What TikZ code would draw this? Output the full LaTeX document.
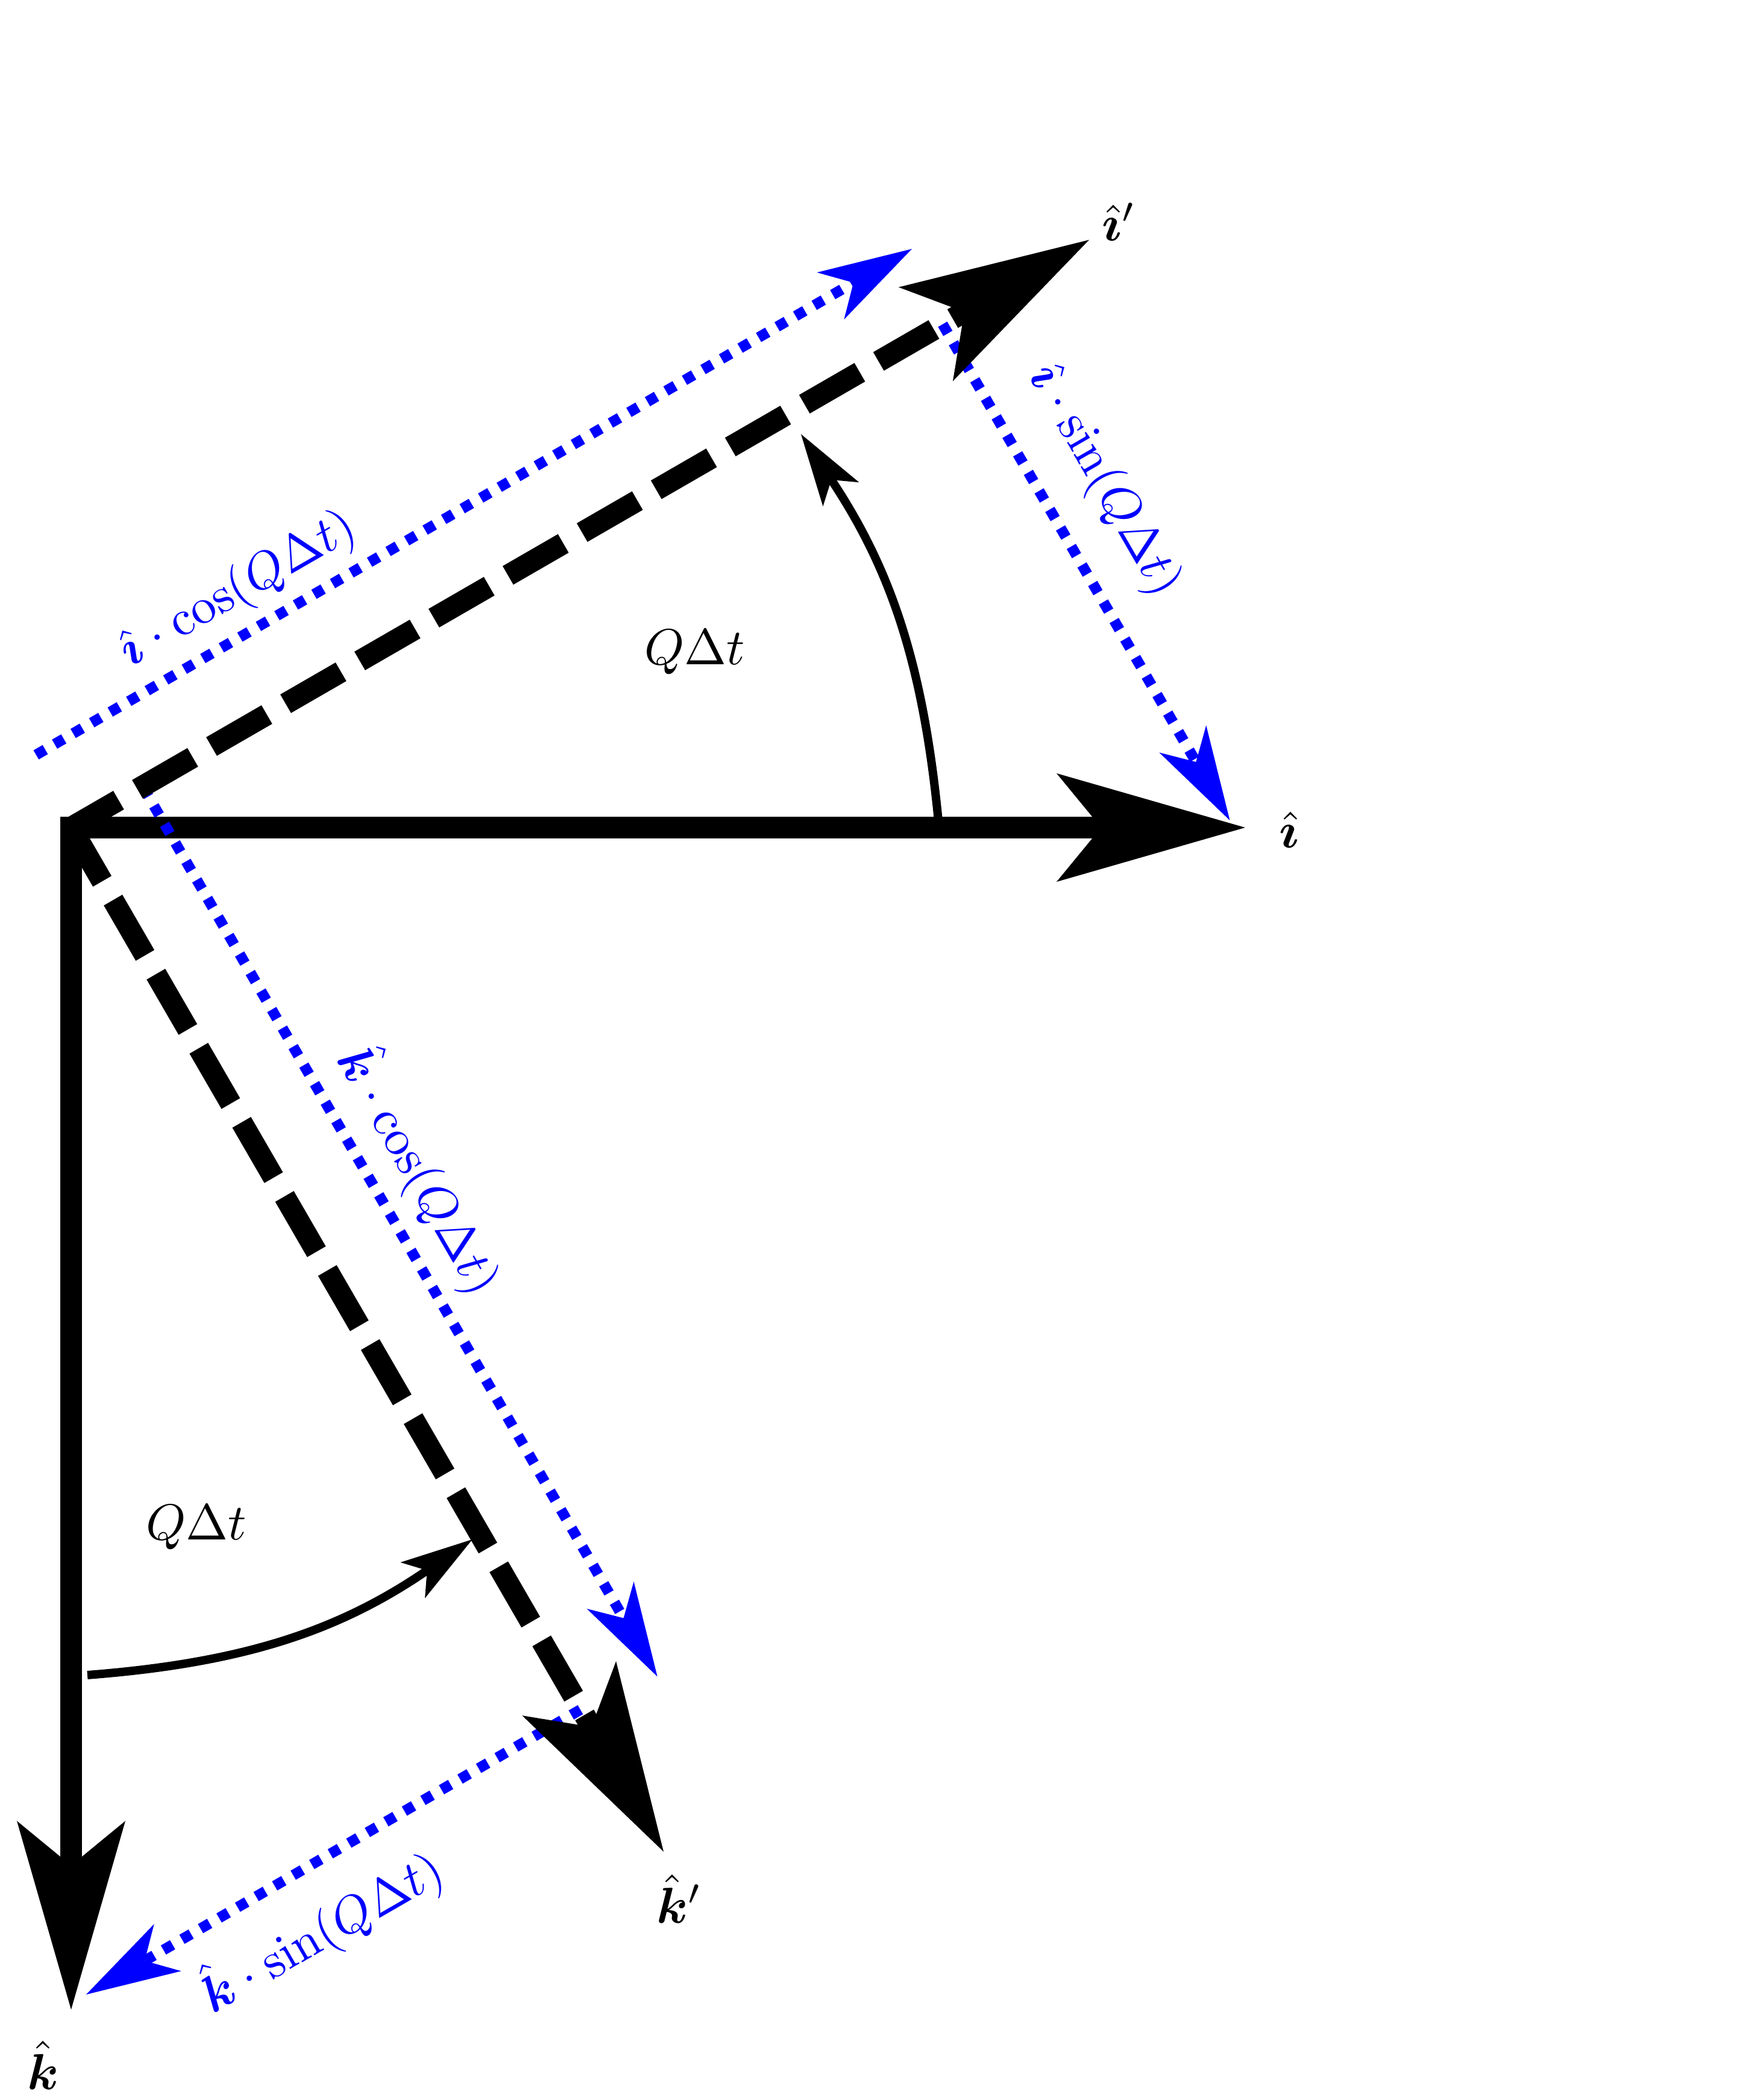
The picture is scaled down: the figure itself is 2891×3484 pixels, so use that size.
\documentclass[tikz,border=0pt]{standalone}
\usepackage{amsmath,bm}
\usetikzlibrary{arrows.meta}
\begin{document}
\begin{tikzpicture}[x=0.1pt,y=0.1pt,
  axisline/.style={line width=3.56pt, line cap=rect, -{Stealth[length=31.3pt,width=18pt,inset=7.4pt,line width=0pt]}},
  rotline/.style={line width=3.56pt, dash pattern=on 10.6pt off 3.6pt, -{Stealth[length=31.3pt,width=18pt,inset=7.4pt,line width=0pt]}},
  projline/.style={draw=blue, line width=1.75pt, dash pattern=on 1.75pt off 1.8pt, -{Stealth[length=15.6pt,width=9pt,inset=4.4pt,line width=0pt]}},
  anglearc/.style={line width=1.4pt, -{Stealth[length=12pt,width=7.2pt,inset=2.9pt,line width=0pt]}},
  lbl/.style={inner sep=0pt, scale=0.84},
  plbl/.style={lbl, text=blue}]
\useasboundingbox (0,0) rectangle (2891,3484);
% main points
\coordinate (O) at (118,2111);
\coordinate (I) at (2066,2111);
\coordinate (K) at (118,150);
\coordinate (Ip) at (1807,3086);
\coordinate (Kp) at (1101,412);
% projection end points
\coordinate (icS) at (59.9,2231.6);
\coordinate (icE) at (1513,3071);
\coordinate (isS) at (1564,2946);
\coordinate (isE) at (2040.5,2123);
\coordinate (kcS) at (237.6,2177.8);
\coordinate (kcE) at (1090.7,702.5);
\coordinate (ksS) at (963,647.5);
\coordinate (ksE) at (143,175);
% angle arcs
\coordinate (auS) at (1556.7,2125);
\coordinate (auE) at (1329,2763.7);
\coordinate (alS) at (145,705);
\coordinate (alE) at (783.7,930);

% original axes
\draw[axisline] (O) -- (I);
\draw[axisline] (O) -- (K);
% projections
\draw[projline] (icS) -- (icE);
\draw[projline] (isS) -- (isE);
\draw[projline] (kcS) -- (kcE);
\draw[projline] (ksS) -- (ksE);
% rotated axes
\draw[rotline, dash phase=1.5pt] (O) -- (Ip);
\draw[rotline, dash phase=0.3pt] (O) -- (Kp);
% angle arcs
\draw[anglearc] (auS) to[bend right=14] (auE);
\draw[anglearc] (alS) to[bend right=15] (alE);

% labels
\node[lbl] (lIp) at (1857,3116) {$\hat{\bm{\imath}}'$};
\node[lbl] (lI) at (2139,2107) {$\hat{\bm{\imath}}$};
\node[lbl] (lK) at (71.5,58) {$\hat{\bm{k}}$};
\node[lbl] (lKp) at (1127,334) {$\hat{\bm{k}}'$};
\node[lbl] (qU) at (1152.5,2402) {$Q\Delta t$};
\node[lbl] (qL) at (325.5,950.5) {$Q\Delta t$};
\node[plbl, rotate=30] (ic) at (395.5,2504.5) {$\hat{\bm{\imath}}\cdot\cos(Q\Delta t)$};
\node[plbl, rotate=-60] (is) at (1831,2686) {$\hat{\bm{\imath}}\cdot\sin(Q\Delta t)$};
\node[plbl, rotate=-60] (kc) at (697.5,1543) {$\hat{\bm{k}}\cdot\cos(Q\Delta t)$};
\node[plbl, rotate=30] (ks) at (532.5,280) {$\hat{\bm{k}}\cdot\sin(Q\Delta t)$};
\end{tikzpicture}
\end{document}
